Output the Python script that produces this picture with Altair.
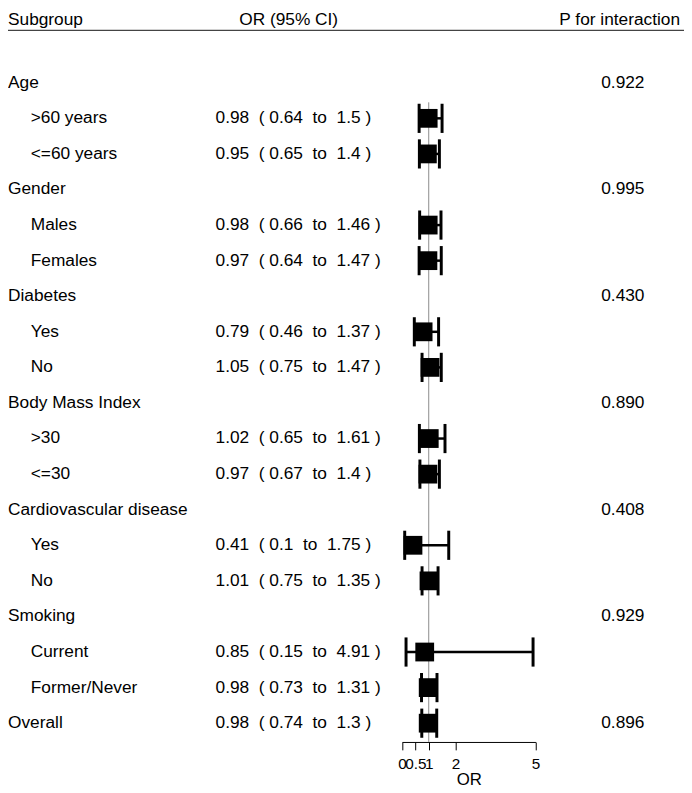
import altair as alt
import pandas as pd

# ---------------- data ----------------
labels = ["Age", ">60 years", "<=60 years",
          "Gender", "Males", "Females",
          "Diabetes", "Yes", "No",
          "Body Mass Index", ">30", "<=30",
          "Cardiovascular disease", "Yes", "No",
          "Smoking", "Current", "Former/Never",
          "Overall"]
indent = [0, 1, 1, 0, 1, 1, 0, 1, 1, 0, 1, 1, 0, 1, 1, 0, 1, 1, 0]
or_est = [None, 0.98, 0.95, None, 0.98, 0.97, None, 0.79, 1.05, None, 1.02, 0.97,
          None, 0.41, 1.01, None, 0.85, 0.98, 0.98]
ci_low = [None, 0.64, 0.65, None, 0.66, 0.64, None, 0.46, 0.75, None, 0.65, 0.67,
          None, 0.10, 0.75, None, 0.15, 0.73, 0.74]
ci_high = [None, 1.5, 1.4, None, 1.46, 1.47, None, 1.37, 1.47, None, 1.61, 1.4,
           None, 1.75, 1.35, None, 4.91, 1.31, 1.3]
p_inter = ["0.922", "", "", "0.995", "", "", "0.430", "", "", "0.890", "", "",
           "0.408", "", "", "0.929", "", "", "0.896"]
header_texts = ["Subgroup", "OR (95% CI)", "P for interaction"]
axis_ticks = [0, 0.5, 1, 2, 5]
ref_value = [1]

# ---------------- tables ----------------
NB = "\u00a0"
def fmt(v):
    return f"{v:g}"

rows_all, rows_est = [], []
for i, lab in enumerate(labels):
    rows_all.append({"row": i, "label": lab, "indent": indent[i], "p": p_inter[i]})
    if or_est[i] is not None:
        txt = (f"{fmt(or_est[i])}{NB}{NB}({NB}{fmt(ci_low[i])}{NB}{NB}to{NB}{NB}"
               f"{fmt(ci_high[i])}{NB})")
        rows_est.append({"row": i, "est": or_est[i], "lo": ci_low[i],
                         "hi": ci_high[i], "ortext": txt})
df_all = pd.DataFrame(rows_all)
df_est = pd.DataFrame(rows_est)
df_head = pd.DataFrame({"t": header_texts})
df_ref = pd.DataFrame({"ref": ref_value, "rtop": [0.55]})

# ---------------- layout ----------------
W, H = 684, 738
FONT = "Liberation Sans"
FS = 17.5

yscale = alt.Scale(domain=[-1.9722, 18.5278], reverse=True, nice=False, zero=False)
xscale = alt.Scale(domain=[0, 5], range=[398.7, 533.7], nice=False, zero=False)
xaxis = alt.Axis(title="OR", values=axis_ticks, tickSize=8, grid=False,
                 labelFontSize=15.5, titleFontSize=17, titleFontWeight="normal",
                 labelPadding=7, titlePadding=0, domainColor="black",
                 tickColor="black", labelColor="black", titleColor="black",
                 labelOverlap=False, labelFlush=False, labelBound=False,
                 labelExpr="'' + datum.value", labelFont=FONT, titleFont=FONT,
                 domainWidth=1, tickWidth=1)

def X(field):
    return alt.X(field, type="quantitative", scale=xscale, axis=xaxis)

def Yf(field):
    return alt.Y(field, type="quantitative", scale=yscale, axis=None)

# reference line at OR = 1
refline = alt.Chart(df_ref).mark_rule(color="#8c8c8c", strokeWidth=1).encode(
    x=X("ref"), y=Yf("rtop"), y2=alt.value(H))

# CI lines
ci = alt.Chart(df_est).mark_rule(color="black", strokeWidth=2.5).encode(
    x=X("lo"), x2="hi", y=Yf("row"))

caps_base = alt.Chart(df_est).transform_calculate(
    ytop="datum.row - 0.41", ybot="datum.row + 0.41")
cap_lo = caps_base.mark_rule(color="black", strokeWidth=3).encode(
    x=X("lo"), y=Yf("ytop"), y2="ybot:Q")
cap_hi = caps_base.mark_rule(color="black", strokeWidth=3).encode(
    x=X("hi"), y=Yf("ytop"), y2="ybot:Q")

boxes = alt.Chart(df_est).mark_square(size=361, color="black", opacity=1,
                                      filled=True).encode(x=X("est"), y=Yf("row"))

# text columns
def txt_mark(align):
    return dict(align=align, baseline="middle", fontSize=FS, font=FONT, color="black")

lab_main = alt.Chart(df_all).transform_filter("datum.indent == 0").mark_text(
    **txt_mark("left")).encode(x=alt.value(0), y=Yf("row"), text="label:N")
lab_sub = alt.Chart(df_all).transform_filter("datum.indent == 1").mark_text(
    **txt_mark("left")).encode(x=alt.value(23), y=Yf("row"), text="label:N")
or_txt = alt.Chart(df_est).mark_text(**txt_mark("left")).encode(
    x=alt.value(210), y=Yf("row"), text="ortext:N")
p_txt = alt.Chart(df_all).transform_filter("datum.p != ''").mark_text(
    **txt_mark("right")).encode(x=alt.value(644), y=Yf("row"), text="p:N")

# header
head_base = alt.Chart(df_head)
def head_mark(align):
    return dict(align=align, baseline="alphabetic", fontSize=FS, font=FONT, color="black")

h1 = head_base.transform_filter("datum.t == 'Subgroup'").mark_text(
    **head_mark("left")).encode(x=alt.value(0), y=alt.value(13), text="t:N")
h2 = head_base.transform_filter("datum.t == 'OR (95% CI)'").mark_text(
    **head_mark("center")).encode(x=alt.value(284), y=alt.value(13), text="t:N")
h3 = head_base.transform_filter("datum.t == 'P for interaction'").mark_text(
    **head_mark("right")).encode(x=alt.value(680), y=alt.value(13), text="t:N")
hline = alt.Chart(df_head).transform_filter("datum.t == 'Subgroup'").mark_rule(
    color="#444", strokeWidth=1.3).encode(
    x=alt.value(0), x2=alt.value(W), y=alt.value(18))

chart = alt.layer(
    refline, ci, cap_lo, cap_hi, boxes,
    lab_main, lab_sub, or_txt, p_txt,
    h1, h2, h3, hline
).properties(
    width=W, height=H, autosize="none",
    padding={"left": 0, "top": 0, "right": 0, "bottom": 47}
).configure(font=FONT).configure_view(stroke=None, strokeWidth=0)

chart.save("out.html", embed_options={"renderer": "svg", "actions": False})
